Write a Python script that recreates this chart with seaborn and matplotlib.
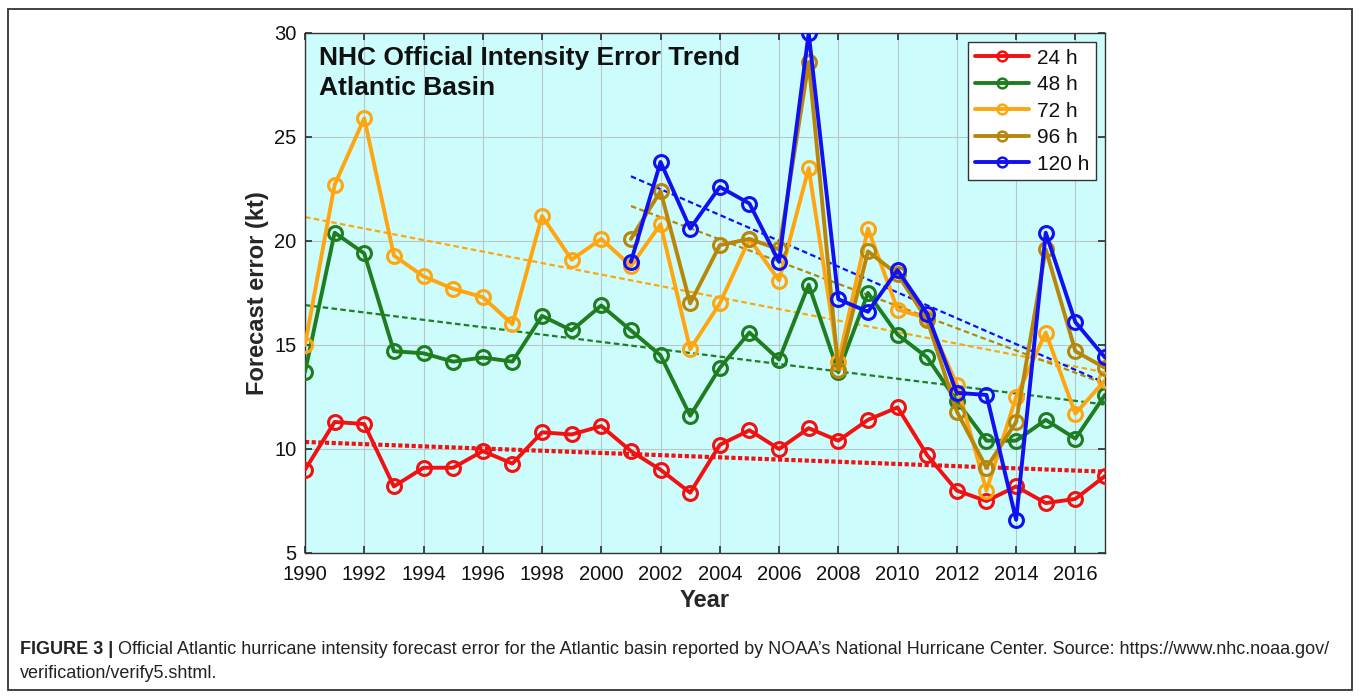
import numpy as np
import pandas as pd
import matplotlib
matplotlib.use("Agg")
import matplotlib.pyplot as plt
import seaborn as sns
from matplotlib.patches import Rectangle

# =========================
# 1. 数据
# =========================
years = list(range(1990, 2018))
years_late = list(range(2001, 2018))

err_24 = [9.0, 11.3, 11.2, 8.2, 9.1, 9.1, 9.9, 9.3, 10.8, 10.7, 11.1, 9.9, 9.0, 7.9,
          10.2, 10.9, 10.0, 11.0, 10.4, 11.4, 12.0, 9.7, 8.0, 7.5, 8.2, 7.4, 7.6, 8.7]
err_48 = [13.7, 20.4, 19.4, 14.7, 14.6, 14.2, 14.4, 14.2, 16.4, 15.7, 16.9, 15.7, 14.5, 11.6,
          13.9, 15.6, 14.3, 17.9, 13.7, 17.5, 15.5, 14.4, 12.3, 10.4, 10.4, 11.4, 10.5, 12.6]
err_72 = [15.0, 22.7, 25.9, 19.3, 18.3, 17.7, 17.3, 16.0, 21.2, 19.1, 20.1, 18.8, 20.8, 14.8,
          17.0, 20.1, 18.1, 23.5, 14.2, 20.6, 16.7, 16.3, 13.1, 8.0, 12.5, 15.6, 11.7, 13.3]
err_96 = [20.1, 22.4, 17.0, 19.8, 20.1, 19.6, 28.6, 13.8, 19.5, 18.4, 16.2, 11.8, 9.1, 11.3,
          19.6, 14.7, 13.9]
err_120 = [19.0, 23.8, 20.6, 22.6, 21.8, 19.0, 30.0, 17.2, 16.6, 18.6, 16.5, 12.7, 12.6, 6.6,
           20.4, 16.1, 14.4]

labels = ["24 h", "48 h", "72 h", "96 h", "120 h"]
colors = ["#F21010", "#1E7D1E", "#FFA510", "#B8860B", "#1010F0"]

series = [
    (years, err_24),
    (years, err_48),
    (years, err_72),
    (years_late, err_96),
    (years_late, err_120),
]

# =========================
# 2. 画图
# =========================
sns.set_theme(style="ticks")
plt.rcParams["font.family"] = ["Liberation Sans", "DejaVu Sans"]
plt.rcParams["text.color"] = "#111111"
plt.rcParams["xtick.color"] = "#333333"
plt.rcParams["ytick.color"] = "#333333"
plt.rcParams["xtick.labelcolor"] = "#111111"
plt.rcParams["ytick.labelcolor"] = "#111111"

fig = plt.figure(figsize=(13.6, 6.99), dpi=100)
ax = fig.add_axes([305 / 1360, 1 - 553 / 699, 800 / 1360, 520 / 699])
ax.set_facecolor("#CCFCFC")

# 外框
fig.patches.append(Rectangle((8 / 1360, 9 / 699), 1344 / 1360, 681 / 699,
                             transform=fig.transFigure, fill=False,
                             edgecolor="#333333", linewidth=1.3))

# 趋势线
for i, (x, y) in enumerate(series):
    if i == 0:
        lk = {"color": colors[i], "linestyle": (0, (1, 0.6)), "linewidth": 3.0}
    else:
        lk = {"color": colors[i], "linestyle": (0, (2.5, 1.5)), "linewidth": 1.6}
    sns.regplot(x=x, y=y, scatter=False, ci=None, truncate=True, ax=ax, line_kws=lk)

# 折线
for i, (x, y) in enumerate(series):
    sns.lineplot(x=x, y=y, ax=ax, color=colors[i], linewidth=2.8, marker="o",
                 markersize=10, markerfacecolor="none", markeredgecolor=colors[i],
                 markeredgewidth=2.2, label=labels[i], zorder=3 + i)

ax.set_xlim(1990, 2017)
ax.set_ylim(5, 30)
ax.set_xticks(range(1990, 2017, 2))
ax.set_yticks(range(5, 31, 5))
ax.tick_params(direction="in", top=True, right=True, labelsize=14.5, length=5)
ax.tick_params(axis="x", pad=9)
ax.tick_params(axis="y", pad=6)
ax.grid(True, color="#B8C8C8", linewidth=0.8)
for s in ax.spines.values():
    s.set_color("#333333")
    s.set_linewidth(1.0)

ax.set_xlabel("Year", fontsize=17, fontweight="bold", labelpad=3)
ax.set_ylabel("Forecast error (kt)", fontsize=17, fontweight="bold", labelpad=4)

ax.text(0.017, 0.975, "NHC Official Intensity Error Trend\nAtlantic Basin",
        transform=ax.transAxes, fontsize=19, fontweight="bold", va="top", ha="left",
        linespacing=1.3)

leg = ax.legend(loc="upper right", fontsize=15, frameon=True, fancybox=False,
                edgecolor="#333333", framealpha=1, handlelength=2.6,
                borderaxespad=0.45, labelspacing=0.36, handletextpad=0.4,
                borderpad=0.3)
leg.get_frame().set_linewidth(1.0)
for h in leg.legend_handles:
    h.set_markersize(7)
    h.set_markeredgewidth(1.8)

# 图注
cap_font = ["Liberation Sans Narrow", "Liberation Sans", "DejaVu Sans"]
t1 = fig.text(20 / 1360, 1 - 650 / 699, "FIGURE 3 |", fontsize=13, fontweight="bold",
              color="#222222", va="center", family=cap_font)
fig.canvas.draw()
bb = t1.get_window_extent()
fig.text((bb.x1 + 5) / 1360, 1 - 650 / 699,
         "Official Atlantic hurricane intensity forecast error for the Atlantic basin "
         "reported by NOAA\u2019s National Hurricane Center. Source: https://www.nhc.noaa.gov/",
         fontsize=13, color="#222222", va="center", family=cap_font)
fig.text(20 / 1360, 1 - 673 / 699, "verification/verify5.shtml.", fontsize=13,
         color="#222222", va="center", family=cap_font)

fig.savefig("out.png", dpi=100)
